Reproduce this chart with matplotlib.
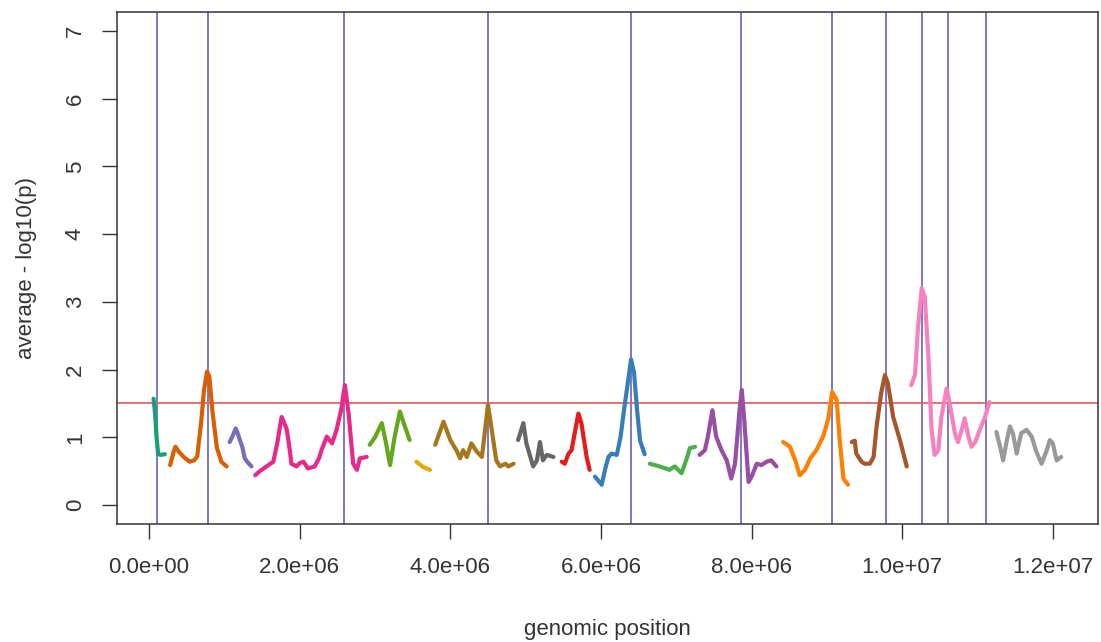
import numpy as np
import matplotlib
matplotlib.use("Agg")
import matplotlib.pyplot as plt

plt.rcParams['font.family'] = ['Liberation Sans', 'DejaVu Sans']

# Sliding-window average -log10(p) per chromosome (positions in Mb)
chrom_pos = [
    [0.06, 0.08, 0.10, 0.12, 0.15, 0.21],
    [0.28, 0.33, 0.35, 0.40, 0.47, 0.54, 0.60, 0.64, 0.69, 0.73, 0.77, 0.80, 0.84, 0.90, 0.96, 1.03],
    [1.07, 1.11, 1.15, 1.17, 1.21, 1.24, 1.27, 1.31, 1.36],
    [1.41, 1.47, 1.56, 1.65, 1.70, 1.76, 1.80, 1.83, 1.87, 1.89, 1.96, 2.00, 2.05, 2.11, 2.20,
     2.26, 2.29, 2.36, 2.43, 2.49, 2.55, 2.60, 2.65, 2.71, 2.76, 2.80, 2.89],
    [2.93, 3.00, 3.09, 3.14, 3.20, 3.26, 3.33, 3.40, 3.46],
    [3.55, 3.64, 3.73],
    [3.80, 3.91, 4.00, 4.08, 4.13, 4.17, 4.22, 4.28, 4.35, 4.42, 4.50, 4.55, 4.61, 4.66, 4.73, 4.77, 4.84],
    [4.90, 4.97, 5.01, 5.10, 5.15, 5.19, 5.23, 5.28, 5.37],
    [5.48, 5.52, 5.57, 5.61, 5.70, 5.74, 5.81, 5.85],
    [5.92, 6.01, 6.06, 6.10, 6.14, 6.21, 6.26, 6.30, 6.35, 6.40, 6.44, 6.48, 6.52, 6.58],
    [6.65, 6.78, 6.91, 6.98, 7.07, 7.14, 7.18, 7.25],
    [7.31, 7.38, 7.42, 7.48, 7.53, 7.60, 7.67, 7.73, 7.78, 7.84, 7.87, 7.90, 7.96, 8.00, 8.07,
     8.13, 8.20, 8.26, 8.33],
    [8.42, 8.51, 8.58, 8.64, 8.71, 8.78, 8.86, 8.95, 9.02, 9.07, 9.13, 9.17, 9.22, 9.28],
    [9.33, 9.37, 9.39, 9.46, 9.50, 9.57, 9.62, 9.66, 9.72, 9.77, 9.81, 9.88, 9.97, 10.06],
    [10.12, 10.17, 10.21, 10.26, 10.30, 10.35, 10.39, 10.43, 10.48, 10.52, 10.59, 10.63, 10.70,
     10.74, 10.79, 10.83, 10.88, 10.92, 10.97, 11.03, 11.10, 11.16],
    [11.25, 11.30, 11.34, 11.39, 11.43, 11.47, 11.52, 11.58, 11.65, 11.72, 11.78, 11.85, 11.92,
     11.96, 12.00, 12.05, 12.11],
]
chrom_val = [
    [1.57, 1.35, 1.00, 0.76, 0.74, 0.75],
    [0.59, 0.80, 0.86, 0.78, 0.70, 0.64, 0.66, 0.72, 1.20, 1.70, 1.97, 1.90, 1.40, 0.85, 0.64, 0.57],
    [0.93, 1.02, 1.13, 1.08, 0.95, 0.85, 0.69, 0.63, 0.57],
    [0.44, 0.50, 0.57, 0.64, 0.90, 1.30, 1.20, 1.11, 0.80, 0.61, 0.57, 0.62, 0.64, 0.54, 0.57,
     0.70, 0.81, 1.01, 0.91, 1.11, 1.40, 1.77, 1.35, 0.61, 0.52, 0.69, 0.71],
    [0.89, 1.00, 1.21, 0.95, 0.59, 1.00, 1.38, 1.15, 0.96],
    [0.64, 0.56, 0.52],
    [0.89, 1.23, 0.96, 0.81, 0.69, 0.81, 0.71, 0.91, 0.79, 0.71, 1.48, 1.11, 0.66, 0.57, 0.61, 0.57, 0.61],
    [0.96, 1.21, 0.91, 0.57, 0.66, 0.93, 0.66, 0.74, 0.71],
    [0.64, 0.61, 0.76, 0.81, 1.35, 1.21, 0.71, 0.52],
    [0.42, 0.30, 0.55, 0.71, 0.76, 0.74, 1.00, 1.35, 1.75, 2.15, 1.95, 1.40, 0.95, 0.75],
    [0.61, 0.57, 0.52, 0.57, 0.47, 0.69, 0.84, 0.86],
    [0.74, 0.81, 1.01, 1.40, 1.01, 0.81, 0.66, 0.39, 0.61, 1.40, 1.70, 1.30, 0.34, 0.42, 0.61,
     0.59, 0.64, 0.66, 0.57],
    [0.93, 0.86, 0.66, 0.44, 0.52, 0.69, 0.81, 1.01, 1.28, 1.67, 1.55, 0.96, 0.39, 0.30],
    [0.93, 0.95, 0.76, 0.64, 0.61, 0.61, 0.71, 1.16, 1.65, 1.92, 1.80, 1.30, 0.96, 0.57],
    [1.77, 1.92, 2.63, 3.20, 3.07, 2.14, 1.11, 0.74, 0.81, 1.30, 1.72, 1.50, 1.06, 0.93, 1.11,
     1.28, 1.01, 0.86, 0.93, 1.11, 1.30, 1.52],
    [1.08, 0.86, 0.66, 0.96, 1.16, 1.06, 0.76, 1.06, 1.11, 1.01, 0.79, 0.61, 0.81, 0.96, 0.91,
     0.66, 0.71],
]

# Candidate loci (Mb) and significance threshold
marker_pos = [0.106, 0.783, 2.589, 4.500, 6.398, 7.859, 9.067, 9.784, 10.262, 10.607, 11.111]
threshold = 1.5

x_ticks = [0, 2e6, 4e6, 6e6, 8e6, 1e7, 1.2e7]
x_tick_labels = ["0.0e+00", "2.0e+06", "4.0e+06", "6.0e+06", "8.0e+06", "1.0e+07", "1.2e+07"]
y_ticks = [0, 1, 2, 3, 4, 5, 6, 7]

# Dark2 followed by Set1 (yellow omitted)
palette = ["#1B9E77", "#D95F02", "#7570B3", "#E7298A", "#66A61E", "#E6AB02", "#A6761D", "#666666",
           "#E41A1C", "#377EB8", "#4DAF4A", "#984EA3", "#FF7F00", "#A65628", "#F781BF", "#999999"]

fig = plt.figure(figsize=(11.01, 6.42), dpi=100)
ax = fig.add_axes([0.1063, 0.1838, 0.891, 0.7975])

for xs, ys, col in zip(chrom_pos, chrom_val, palette):
    ax.plot(np.array(xs) * 1e6, ys, color=col, lw=3.0, solid_joinstyle="round",
            solid_capstyle="round", zorder=3)

for m in marker_pos:
    ax.axvline(m * 1e6, color="#6E6EC4", lw=1.3, zorder=2)
ax.axhline(threshold, color="#E06666", lw=1.3, zorder=2)

ax.set_xlim(-0.425e6, 12.6e6)
ax.set_ylim(-0.28, 7.28)
ax.set_xticks(x_ticks)
ax.set_xticklabels(x_tick_labels)
ax.set_yticks(y_ticks)
ax.set_yticklabels([str(v) for v in y_ticks], rotation=90, va="center")

for s in ax.spines.values():
    s.set_color("#333333")
    s.set_linewidth(1.1)
ax.tick_params(direction="out", length=10.5, width=1.0, color="#333333",
               labelsize=16, labelcolor="#333333")
ax.tick_params(axis="x", pad=13)
ax.tick_params(axis="y", pad=12)

ax.set_xlabel("genomic position", fontsize=16, color="#333333")
ax.set_ylabel("average - log10(p)", fontsize=16, color="#333333")
ax.xaxis.set_label_coords(0.5, -0.185)
ax.yaxis.set_label_coords(-0.082, 0.5)

fig.savefig("out.png", dpi=100)
